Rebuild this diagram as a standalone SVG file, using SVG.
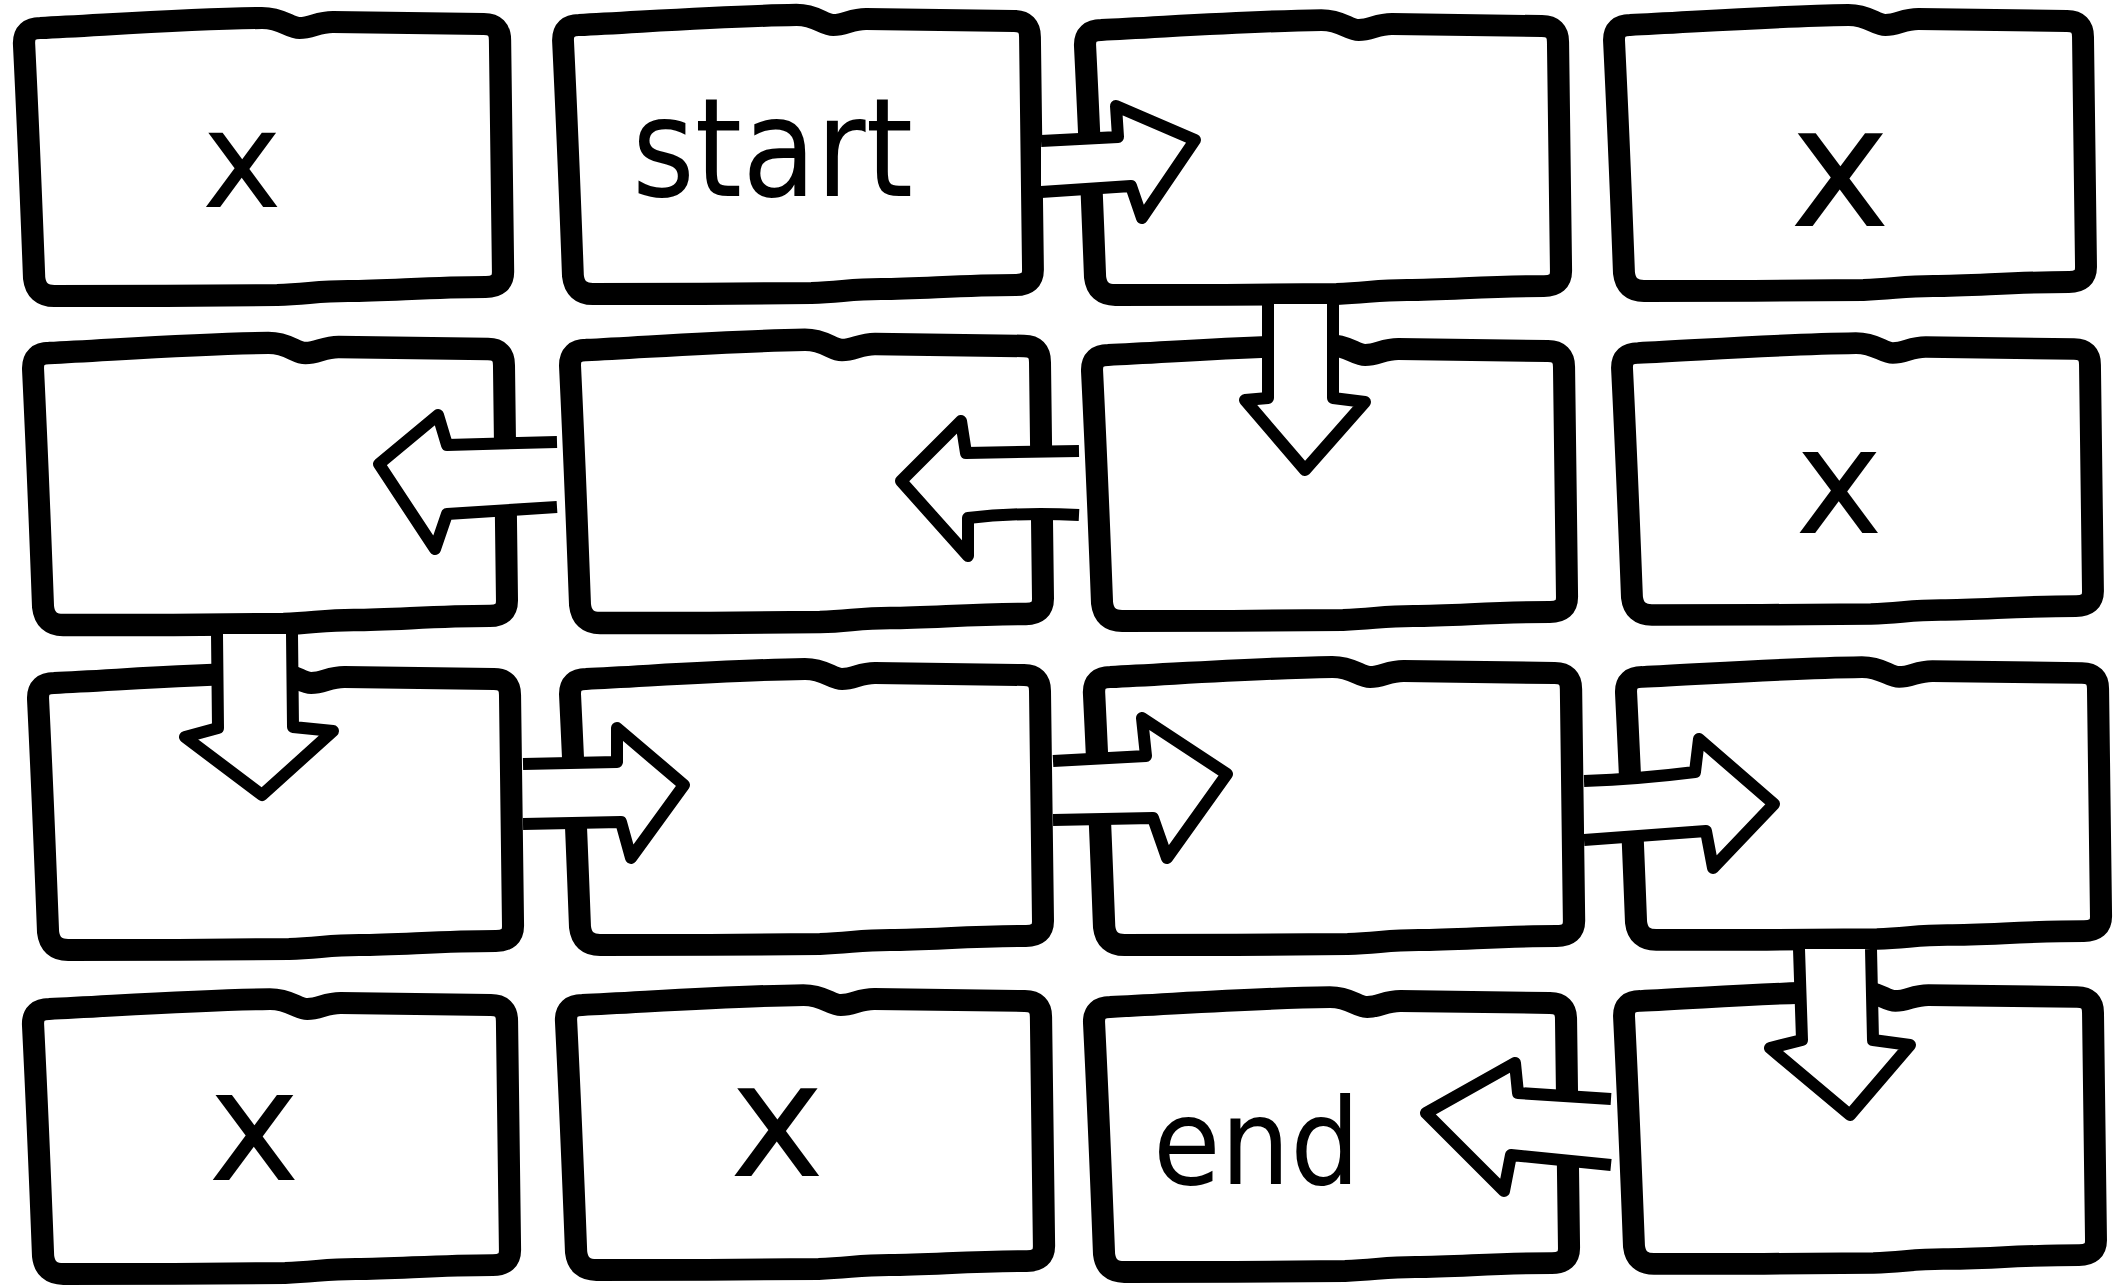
<svg xmlns="http://www.w3.org/2000/svg" xmlns:xlink="http://www.w3.org/1999/xlink" width="2113" height="1286" viewBox="0 0 2113 1286">
<style>
.box{fill:#fff;stroke:#000;stroke-width:22;stroke-linejoin:round;stroke-linecap:round}
.arr{fill:#fff;stroke:#000;stroke-width:12;stroke-linejoin:round;stroke-linecap:butt}
.lbl{font-family:"DejaVu Sans","Liberation Sans",sans-serif;fill:#000}
</style>
<defs>
<path id="boxshape" d="M 0,18 Q 0,3 16,3 C 80,0 160,-6 235,-7 C 255,-7 262,3 272,3 C 284,3 290,-3 305,-3 L 454,-1 Q 470,-1 470,15 L 473,246 Q 473,261 456,261 C 400,261 360,265 320,265 C 290,265 280,268 250,269 C 180,270 100,270 30,270 Q 12,270 10,252 Q 5,120 0,18"/>
</defs>
<rect x="0" y="0" width="2113" height="1286" fill="#fff"/>
<g id="nodes">
<g id="node-r1c1"><use xlink:href="#boxshape" class="box" transform="translate(24,25) scale(1.0128,1.0038)"/><text class="lbl" x="242" y="207" font-size="135" text-anchor="middle">x</text></g>
<g id="node-r1c2"><use xlink:href="#boxshape" class="box" transform="translate(563,22) scale(0.9936,1.0075)"/><text class="lbl" x="632" y="196" font-size="138" textLength="281" lengthAdjust="spacingAndGlyphs">start</text></g>
<g id="node-r1c3"><use xlink:href="#boxshape" class="box" transform="translate(1085,27) scale(1.0064,0.9925)"/></g>
<g id="node-r1c4"><use xlink:href="#boxshape" class="box" transform="translate(1614,22) scale(0.9979,0.9962)"/><text class="lbl" x="1840" y="226" font-size="170" text-anchor="middle">x</text></g>
<g id="node-r2c1"><use xlink:href="#boxshape" class="box" transform="translate(33,350) scale(1.0021,1.0188)"/></g>
<g id="node-r2c2"><use xlink:href="#boxshape" class="box" transform="translate(570,347) scale(1,1.0226)"/></g>
<g id="node-r2c3"><use xlink:href="#boxshape" class="box" transform="translate(1092,352) scale(1.0043,0.9962)"/></g>
<g id="node-r2c4"><use xlink:href="#boxshape" class="box" transform="translate(1622,350) scale(0.9957,0.9812)"/><text class="lbl" x="1839" y="533" font-size="148" text-anchor="middle">x</text></g>
<g id="node-r3c1"><use xlink:href="#boxshape" class="box" transform="translate(38,680) scale(1.0043,1)"/></g>
<g id="node-r3c2"><use xlink:href="#boxshape" class="box" transform="translate(570,676) scale(1,0.9962)"/></g>
<g id="node-r3c3"><use xlink:href="#boxshape" class="box" transform="translate(1094,674) scale(1.0149,1.0038)"/></g>
<g id="node-r3c4"><use xlink:href="#boxshape" class="box" transform="translate(1626,674) scale(1.0043,0.985)"/></g>
<g id="node-r4c1"><use xlink:href="#boxshape" class="box" transform="translate(33,1006) scale(1.0085,0.9925)"/><text class="lbl" x="254" y="1180" font-size="155" text-anchor="middle">x</text></g>
<g id="node-r4c2"><use xlink:href="#boxshape" class="box" transform="translate(566,1002) scale(1.0106,0.9925)"/><text class="lbl" x="777" y="1176" font-size="160" text-anchor="middle">x</text></g>
<g id="node-r4c3"><use xlink:href="#boxshape" class="box" transform="translate(1094,1004) scale(1.0043,0.9925)"/><text class="lbl" x="1153" y="1184" font-size="120" textLength="207" lengthAdjust="spacingAndGlyphs">end</text></g>
<g id="node-r4c4"><use xlink:href="#boxshape" class="box" transform="translate(1624,998) scale(0.9979,0.985)"/></g>
</g>
<g id="connectors">
<path class="arr" d="M1041,141 L1118,137 L1116,106 L1195,140 L1142,218 L1131,186 L1041,192"/>
<path class="arr" d="M1268,304 L1268,398 L1245,400 L1305,470 L1365,402 L1333,398 L1333,304"/>
<path class="arr" d="M1079,451 L966,453 L961,421 L901,481 L968,556 L968,518 Q1020,512 1079,515"/>
<path class="arr" d="M557,442 L447,445 L438,415 L379,464 L435,549 L447,514 L557,507"/>
<path class="arr" d="M217,634 L218,728 L185,737 L262,795 L333,731 L293,727 L292,634"/>
<path class="arr" d="M523,764 L617,762 L617,728 L684,785 L631,858 L621,822 L523,824"/>
<path class="arr" d="M1053,761 L1146,756 L1142,718 L1227,774 L1167,858 L1153,818 L1053,820"/>
<path class="arr" d="M1584,781 Q1640,779 1695,772 L1699,739 L1774,804 L1713,868 L1706,831 Q1640,836 1584,840"/>
<path class="arr" d="M1799,949 L1802,1040 L1770,1048 L1850,1115 L1910,1045 L1873,1040 L1871,949"/>
<path class="arr" d="M1611,1099 L1518,1093 L1515,1063 L1426,1113 L1504,1191 L1511,1155 Q1560,1160 1611,1165"/>
</g>
</svg>
